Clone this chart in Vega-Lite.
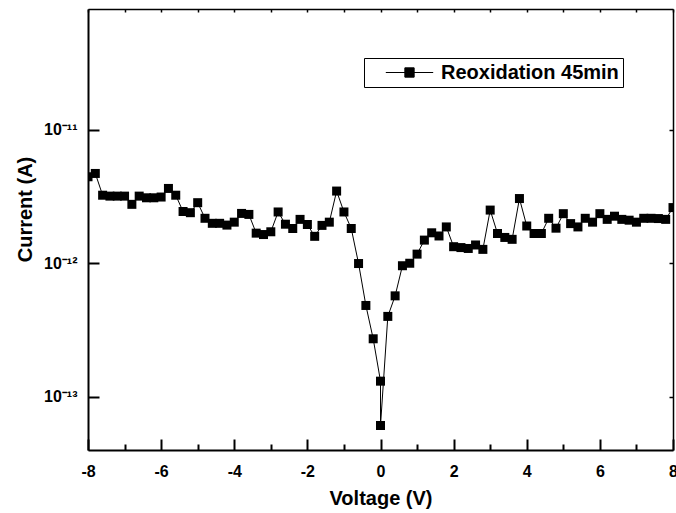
{
  "$schema": "https://vega.github.io/schema/vega-lite/v6.json",
  "autosize": "none",
  "width": 585,
  "height": 441,
  "padding": {"left": 88, "top": 9, "right": 3, "bottom": 63},
  "background": "white",
  "config": {
    "view": {"stroke": null},
    "axis": {"labelFont": "Liberation Sans", "titleFont": "Liberation Sans", "labelColor": "black", "titleColor": "black", "domainColor": "black", "tickColor": "black", "grid": false}
  },
  "data": {"values": [
    {"v": -8, "I": 4.44e-12, "series": "Reoxidation 45min"},
    {"v": -7.8, "I": 4.70e-12, "series": "Reoxidation 45min"},
    {"v": -7.6, "I": 3.23e-12, "series": "Reoxidation 45min"},
    {"v": -7.4, "I": 3.18e-12, "series": "Reoxidation 45min"},
    {"v": -7.2, "I": 3.18e-12, "series": "Reoxidation 45min"},
    {"v": -7.0, "I": 3.18e-12, "series": "Reoxidation 45min"},
    {"v": -6.8, "I": 2.76e-12, "series": "Reoxidation 45min"},
    {"v": -6.6, "I": 3.18e-12, "series": "Reoxidation 45min"},
    {"v": -6.4, "I": 3.09e-12, "series": "Reoxidation 45min"},
    {"v": -6.2, "I": 3.09e-12, "series": "Reoxidation 45min"},
    {"v": -6.0, "I": 3.13e-12, "series": "Reoxidation 45min"},
    {"v": -5.8, "I": 3.63e-12, "series": "Reoxidation 45min"},
    {"v": -5.6, "I": 3.23e-12, "series": "Reoxidation 45min"},
    {"v": -5.4, "I": 2.44e-12, "series": "Reoxidation 45min"},
    {"v": -5.2, "I": 2.39e-12, "series": "Reoxidation 45min"},
    {"v": -5.0, "I": 2.84e-12, "series": "Reoxidation 45min"},
    {"v": -4.8, "I": 2.17e-12, "series": "Reoxidation 45min"},
    {"v": -4.6, "I": 1.99e-12, "series": "Reoxidation 45min"},
    {"v": -4.4, "I": 1.99e-12, "series": "Reoxidation 45min"},
    {"v": -4.2, "I": 1.93e-12, "series": "Reoxidation 45min"},
    {"v": -4.0, "I": 2.03e-12, "series": "Reoxidation 45min"},
    {"v": -3.8, "I": 2.36e-12, "series": "Reoxidation 45min"},
    {"v": -3.6, "I": 2.32e-12, "series": "Reoxidation 45min"},
    {"v": -3.4, "I": 1.68e-12, "series": "Reoxidation 45min"},
    {"v": -3.2, "I": 1.64e-12, "series": "Reoxidation 45min"},
    {"v": -3.0, "I": 1.72e-12, "series": "Reoxidation 45min"},
    {"v": -2.8, "I": 2.42e-12, "series": "Reoxidation 45min"},
    {"v": -2.6, "I": 1.96e-12, "series": "Reoxidation 45min"},
    {"v": -2.4, "I": 1.82e-12, "series": "Reoxidation 45min"},
    {"v": -2.2, "I": 2.13e-12, "series": "Reoxidation 45min"},
    {"v": -2.0, "I": 1.95e-12, "series": "Reoxidation 45min"},
    {"v": -1.8, "I": 1.59e-12, "series": "Reoxidation 45min"},
    {"v": -1.6, "I": 1.92e-12, "series": "Reoxidation 45min"},
    {"v": -1.4, "I": 2.03e-12, "series": "Reoxidation 45min"},
    {"v": -1.2, "I": 3.47e-12, "series": "Reoxidation 45min"},
    {"v": -1.0, "I": 2.42e-12, "series": "Reoxidation 45min"},
    {"v": -0.8, "I": 1.82e-12, "series": "Reoxidation 45min"},
    {"v": -0.6, "I": 9.95e-13, "series": "Reoxidation 45min"},
    {"v": -0.4, "I": 4.83e-13, "series": "Reoxidation 45min"},
    {"v": -0.2, "I": 2.72e-13, "series": "Reoxidation 45min"},
    {"v": 0, "I": 1.31e-13, "series": "Reoxidation 45min"},
    {"v": 0, "I": 6.1e-14, "series": "Reoxidation 45min"},
    {"v": 0.2, "I": 4.0e-13, "series": "Reoxidation 45min"},
    {"v": 0.4, "I": 5.70e-13, "series": "Reoxidation 45min"},
    {"v": 0.6, "I": 9.58e-13, "series": "Reoxidation 45min"},
    {"v": 0.8, "I": 1.0e-12, "series": "Reoxidation 45min"},
    {"v": 1.0, "I": 1.17e-12, "series": "Reoxidation 45min"},
    {"v": 1.2, "I": 1.49e-12, "series": "Reoxidation 45min"},
    {"v": 1.4, "I": 1.69e-12, "series": "Reoxidation 45min"},
    {"v": 1.6, "I": 1.60e-12, "series": "Reoxidation 45min"},
    {"v": 1.8, "I": 1.87e-12, "series": "Reoxidation 45min"},
    {"v": 2.0, "I": 1.33e-12, "series": "Reoxidation 45min"},
    {"v": 2.2, "I": 1.31e-12, "series": "Reoxidation 45min"},
    {"v": 2.4, "I": 1.29e-12, "series": "Reoxidation 45min"},
    {"v": 2.6, "I": 1.37e-12, "series": "Reoxidation 45min"},
    {"v": 2.8, "I": 1.27e-12, "series": "Reoxidation 45min"},
    {"v": 3.0, "I": 2.50e-12, "series": "Reoxidation 45min"},
    {"v": 3.2, "I": 1.67e-12, "series": "Reoxidation 45min"},
    {"v": 3.4, "I": 1.56e-12, "series": "Reoxidation 45min"},
    {"v": 3.6, "I": 1.51e-12, "series": "Reoxidation 45min"},
    {"v": 3.8, "I": 3.05e-12, "series": "Reoxidation 45min"},
    {"v": 4.0, "I": 1.90e-12, "series": "Reoxidation 45min"},
    {"v": 4.2, "I": 1.67e-12, "series": "Reoxidation 45min"},
    {"v": 4.4, "I": 1.67e-12, "series": "Reoxidation 45min"},
    {"v": 4.6, "I": 2.17e-12, "series": "Reoxidation 45min"},
    {"v": 4.8, "I": 1.83e-12, "series": "Reoxidation 45min"},
    {"v": 5.0, "I": 2.35e-12, "series": "Reoxidation 45min"},
    {"v": 5.2, "I": 1.98e-12, "series": "Reoxidation 45min"},
    {"v": 5.4, "I": 1.87e-12, "series": "Reoxidation 45min"},
    {"v": 5.6, "I": 2.17e-12, "series": "Reoxidation 45min"},
    {"v": 5.8, "I": 2.03e-12, "series": "Reoxidation 45min"},
    {"v": 6.0, "I": 2.35e-12, "series": "Reoxidation 45min"},
    {"v": 6.2, "I": 2.13e-12, "series": "Reoxidation 45min"},
    {"v": 6.4, "I": 2.25e-12, "series": "Reoxidation 45min"},
    {"v": 6.6, "I": 2.13e-12, "series": "Reoxidation 45min"},
    {"v": 6.8, "I": 2.10e-12, "series": "Reoxidation 45min"},
    {"v": 7.0, "I": 2.03e-12, "series": "Reoxidation 45min"},
    {"v": 7.2, "I": 2.17e-12, "series": "Reoxidation 45min"},
    {"v": 7.4, "I": 2.17e-12, "series": "Reoxidation 45min"},
    {"v": 7.6, "I": 2.16e-12, "series": "Reoxidation 45min"},
    {"v": 7.8, "I": 2.13e-12, "series": "Reoxidation 45min"},
    {"v": 8.0, "I": 2.61e-12, "series": "Reoxidation 45min"}
  ]},
  "resolve": {"axis": {"x": "independent", "y": "independent"}},
  "layer": [
    {
      "mark": {"type": "line", "strokeWidth": 1, "clip": true},
      "encoding": {
        "x": {"field": "v", "type": "quantitative",
          "scale": {"domain": [-8, 8], "nice": false, "zero": false},
          "axis": {"orient": "bottom", "title": "Voltage (V)", "values": [-8, -6, -4, -2, 0, 2, 4, 6, 8],
            "labelExpr": "'' + datum.value", "ticks": false, "domainWidth": 2,
            "labelFontSize": 16, "labelFontWeight": "bold", "labelPadding": 13, "labelFlush": false,
            "titleFontSize": 20, "titleFontWeight": "bold", "titlePadding": 9}},
        "y": {"field": "I", "type": "quantitative",
          "scale": {"type": "log", "domain": [4e-14, 8e-11], "nice": false},
          "axis": {"orient": "left", "title": "Current (A)", "values": [1e-13, 1e-12, 1e-11],
            "labelExpr": "datum.value < 3e-13 ? '10⁻¹³' : (datum.value < 3e-12 ? '10⁻¹²' : '10⁻¹¹')",
            "ticks": false, "domainWidth": 2, "labelFontSize": 16, "labelFontWeight": "bold", "labelPadding": 11,
            "titleFontSize": 20, "titleFontWeight": "bold", "titleX": -63, "titleY": 200,
            "titleAlign": "center", "titleBaseline": "middle", "titleAngle": -90}},
        "color": {"field": "series", "type": "nominal",
          "scale": {"range": ["black"]},
          "legend": {"title": null, "orient": "none", "legendX": 276, "legendY": 49,
            "symbolType": "M-2.37,0H2.37M-0.465,-0.465H0.465V0.465H-0.465Z",
            "symbolSize": 400, "symbolStrokeWidth": 1, "symbolFillColor": "black", "symbolStrokeColor": "black",
            "symbolOffset": 31, "labelOffset": 21, "labelFont": "Liberation Sans", "labelFontSize": 20,
            "labelFontWeight": "bold", "labelColor": "black", "labelLimit": 400,
            "labelExpr": "datum.label + '  '",
            "padding": 4, "strokeColor": "black", "fillColor": "white"}}
      }
    },
    {
      "mark": {"type": "point", "shape": "square", "filled": true, "size": 81, "color": "black", "opacity": 1, "clip": true},
      "encoding": {
        "x": {"field": "v", "type": "quantitative",
          "scale": {"domain": [-8, 8], "nice": false, "zero": false},
          "axis": {"orient": "bottom", "title": null, "values": [-8, -6, -4, -2, 0, 2, 4, 6, 8],
            "labels": false, "domain": false, "tickSize": -11, "tickWidth": 2}},
        "y": {"field": "I", "type": "quantitative",
          "scale": {"type": "log", "domain": [4e-14, 8e-11], "nice": false},
          "axis": {"orient": "left", "title": null, "values": [1e-13, 1e-12, 1e-11],
            "labels": false, "domain": false, "tickSize": -11, "tickWidth": 2}}
      }
    },
    {
      "mark": {"type": "point", "opacity": 0},
      "encoding": {
        "x": {"field": "v", "type": "quantitative",
          "scale": {"domain": [-8, 8], "nice": false, "zero": false},
          "axis": {"orient": "bottom", "title": null, "values": [-7, -5, -3, -1, 1, 3, 5, 7],
            "labels": false, "domain": false, "tickSize": -6, "tickWidth": 2}},
        "y": {"field": "I", "type": "quantitative",
          "scale": {"type": "log", "domain": [4e-14, 8e-11], "nice": false},
          "axis": {"orient": "right", "title": null, "values": [1e-13, 1e-12, 1e-11],
            "labels": false, "domain": true, "domainWidth": 1.5, "tickSize": -4, "tickWidth": 1.5}}
      }
    },
    {
      "mark": {"type": "point", "opacity": 0},
      "encoding": {
        "x": {"field": "v", "type": "quantitative",
          "scale": {"domain": [-8, 8], "nice": false, "zero": false},
          "axis": {"orient": "top", "title": null, "values": [-8, -7, -6, -5, -4, -3, -2, -1, 0, 1, 2, 3, 4, 5, 6, 7, 8],
            "labels": false, "domain": true, "domainWidth": 1.5, "tickSize": -3, "tickWidth": 1.5}},
        "y": {"field": "I", "type": "quantitative",
          "scale": {"type": "log", "domain": [4e-14, 8e-11], "nice": false},
          "axis": null}
      }
    }
  ]
}
